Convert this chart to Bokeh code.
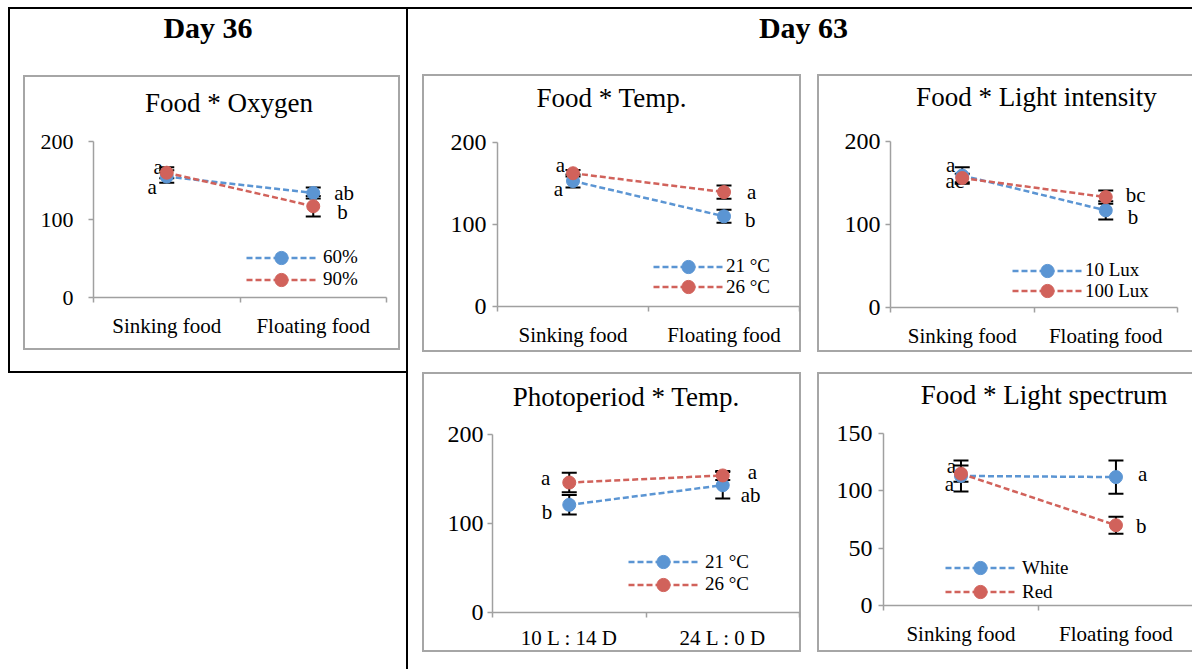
import numpy as np
from bokeh.plotting import figure
from bokeh.models import (Range1d, FixedTicker, CustomJSTickFormatter, LinearAxis,
                          ColumnDataSource, Whisker, TeeHead, Legend, LegendItem,
                          Div, Spacer)
from bokeh.layouts import row, column
from bokeh.embed import file_html
from bokeh.resources import INLINE
from bokeh.core.properties import value

# ---------------- data ----------------
food_cats = ["Sinking food", "Floating food"]
photo_cats = ["10 L : 14 D", "24 L : 0 D"]

# Day 36: Food * Oxygen
oxy_60 = [155, 134]
oxy_60_err = [8, 7]
oxy_60_sig = ["a", "ab"]
oxy_90 = [160, 117]
oxy_90_err = [7, 13]
oxy_90_sig = ["a", "b"]

# Day 63: Food * Temp.
ft_21 = [153, 110]
ft_21_err = [8, 8]
ft_21_sig = ["a", "b"]
ft_26 = [162.5, 139.5]
ft_26_err = [4, 8]
ft_26_sig = ["a", "a"]

# Day 63: Food * Light intensity
lux_10 = [159, 117]
lux_10_err = [10, 11]
lux_10_sig = ["a", "b"]
lux_100 = [156, 133]
lux_100_err = [5, 8]
lux_100_sig = ["ac", "bc"]

# Day 63: Photoperiod * Temp.
pt_21 = [121, 143]
pt_21_err = [11, 15]
pt_21_sig = ["b", "ab"]
pt_26 = [146, 154]
pt_26_err = [11, 5]
pt_26_sig = ["a", "a"]

# Day 63: Food * Light spectrum
sp_white = [113, 112]
sp_white_err = [13.5, 14.5]
sp_white_sig = ["a", "a"]
sp_red = [115, 70]
sp_red_err = [7, 7.5]
sp_red_sig = ["a", "b"]

# ---------------- styles ----------------
BLUE = "#5b95d3"
RED = "#d1625b"
SERIF = "Liberation Serif"
AXIS_GRAY = "#a0a0a0"
PANEL_GRAY = "#a6a6a6"
BLACK_BG = {"background-color": "black"}


def black_line(w, h):
    return Div(text="", width=w, height=h, margin=0, styles=BLACK_BG)


def make_panel(cats, series, width, height, title_h, borders, xend, ymax, yticks, title,
               title_shift, title_pad_top, y_standoff, y_font, legend_x, legend_ys,
               legend_standoff, full_border=True, x_standoff=11):
    bl, br, bt, bb = borders
    if full_border:
        shadow = "inset 0 0 0 2px %s" % PANEL_GRAY
    else:
        shadow = ("inset 2px 0 0 0 %s, inset 0 2px 0 0 %s, inset 0 -2px 0 0 %s"
                  % (PANEL_GRAY, PANEL_GRAY, PANEL_GRAY))
    p = figure(width=width, height=height - title_h, output_backend="svg", toolbar_location=None,
               x_range=Range1d(0, xend), y_range=Range1d(0, ymax),
               x_axis_type=None, y_axis_type=None,
               min_border_left=bl, min_border_right=br, min_border_top=bt, min_border_bottom=bb,
               border_fill_color=None, background_fill_color=None, outline_line_color=None)
    p.grid.visible = False

    xs = np.arange(len(cats)) + 0.5

    yax = LinearAxis(ticker=FixedTicker(ticks=yticks),
                     axis_line_color=AXIS_GRAY, axis_line_width=1.5,
                     major_tick_line_color=AXIS_GRAY, major_tick_line_width=1.5,
                     major_tick_in=0, major_tick_out=5, minor_tick_line_color=None,
                     major_label_text_font=SERIF, major_label_text_font_size=y_font,
                     major_label_text_color="black", major_label_standoff=y_standoff,
                     axis_label_standoff=0)
    p.add_layout(yax, "left")

    xax = LinearAxis(ticker=FixedTicker(ticks=list(xs), minor_ticks=list(range(len(cats) + 1))),
                     formatter=CustomJSTickFormatter(args=dict(labels=cats),
                                                     code="return labels[Math.floor(tick)];"),
                     axis_line_color=AXIS_GRAY, axis_line_width=1.5,
                     major_tick_line_color=None, major_tick_in=0, major_tick_out=0,
                     minor_tick_line_color=AXIS_GRAY, minor_tick_line_width=1.5,
                     minor_tick_in=0, minor_tick_out=5,
                     major_label_text_font=SERIF, major_label_text_font_size="21px",
                     major_label_text_color="black", major_label_standoff=x_standoff,
                     axis_label_standoff=0)
    p.add_layout(xax, "below")

    for vals, errs, sig, color, name, offs in series:
        vals = np.asarray(vals, dtype=float)
        errs = np.asarray(errs, dtype=float)
        src = ColumnDataSource(dict(x=xs, y=vals, upper=vals + errs, lower=vals - errs))
        w = Whisker(source=src, base="x", upper="upper", lower="lower",
                    line_color="black", line_width=2,
                    upper_head=TeeHead(size=15, line_color="black", line_width=2),
                    lower_head=TeeHead(size=15, line_color="black", line_width=2))
        p.add_layout(w)
        for i, (x, v, t, (dx, dy)) in enumerate(zip(xs, vals, sig, offs)):
            p.text(x=[x], y=[v], text=[t], x_offset=dx, y_offset=dy,
                   text_align="right" if i == 0 else "left", text_baseline="middle",
                   text_font=value(SERIF), text_font_size=value("21px"), text_color="black")

    for (vals, errs, sig, color, name, offs), ly in zip(series, legend_ys):
        lr = p.line(xs, vals, line_color=color, line_width=2.5, line_dash="6 3")
        sr = p.scatter(xs, vals, size=13, fill_color=color, line_color=color)
        leg = Legend(items=[LegendItem(label=name, renderers=[lr, sr])],
                     location=(legend_x, ly), orientation="vertical",
                     glyph_width=70, glyph_height=33, spacing=0,
                     label_standoff=legend_standoff, padding=0, margin=0,
                     border_line_color=None, background_fill_alpha=0,
                     label_text_font=SERIF, label_text_font_size="19px", label_height=20,
                     label_text_color="black")
        p.add_layout(leg, "center")

    pad_l = max(0, 2 * title_shift)
    pad_r = max(0, -2 * title_shift)
    html = ('<div style="width:%dpx;height:%dpx;box-sizing:border-box;padding-top:%.1fpx;'
            'padding-left:%.1fpx;padding-right:%.1fpx;text-align:center;white-space:nowrap;'
            'font-family:\'Liberation Serif\';font-size:27px;line-height:27px;color:black;">%s</div>'
            % (width, title_h, title_pad_top, pad_l, pad_r, title))
    tdiv = Div(text=html, width=width, height=title_h, margin=0)
    return column(tdiv, p, width=width, height=height, styles={"box-shadow": shadow})


p1 = make_panel(food_cats,
                [(oxy_60, oxy_60_err, oxy_60_sig, BLUE, "60%", [(-10, 10), (21, 0)]),
                 (oxy_90, oxy_90_err, oxy_90_sig, RED, "90%", [(-4, -6), (24, 6)])],
                377, 275, 50, (70, 14, 16, 53), 2, 200, [0, 100, 200], "Food * Oxygen",
                17.5, 15.4, 15, "22px", 153, (23.5, 1.5), 7)

p2 = make_panel(food_cats,
                [(ft_21, ft_21_err, ft_21_sig, BLUE, "21 °C", [(-10, 8), (21, 4)]),
                 (ft_26, ft_26_err, ft_26_sig, RED, "26 °C", [(-8, -8), (23, 0)])],
                379, 278, 52, (75, 2, 16, 46), 2, 200, [0, 100, 200], "Food * Temp.",
                0, 11, 6, "24px", 156, (23.5, 2.8), 3)

p3 = make_panel(food_cats,
                [(lux_10, lux_10_err, lux_10_sig, BLUE, "10 Lux", [(-7, -11), (22, 7)]),
                 (lux_100, lux_100_err, lux_100_sig, RED, "100 Lux", [(2, 3), (20, -2)])],
                375, 278, 52, (73, 15, 15, 45), 2, 200, [0, 100, 200], "Food * Light intensity",
                32, 10, 5, "24px", 122, (20.5, -0.2), 3, full_border=False)

p4 = make_panel(photo_cats,
                [(pt_21, pt_21_err, pt_21_sig, BLUE, "21 °C", [(-17, 7), (18, 10)]),
                 (pt_26, pt_26_err, pt_26_sig, RED, "26 °C", [(-19, -5), (25, -3)])],
                379, 280, 46, (70, 2, 16, 40), 2, 200, [0, 100, 200], "Photoperiod * Temp.",
                14.5, 12, 4, "24px", 136, (33.8, 11.2), 7, x_standoff=8)

p5 = make_panel(food_cats,
                [(sp_white, sp_white_err, sp_white_sig, BLUE, "White", [(-7, 8), (22, -3)]),
                 (sp_red, sp_red_err, sp_red_sig, RED, "Red", [(-5, -8), (20, 1)])],
                375, 280, 46, (66, 0, 15, 47), 1.994, 150, [0, 50, 100, 150],
                "Food * Light spectrum", 39.7, 9.7, 6, "24px", 62, (20.8, -3.2), 7,
                full_border=False)


# ---------------- page layout ----------------
def head(text, width, height, pad_left=0):
    html = ('<div style="width:%dpx;font-family:\'Liberation Serif\';font-weight:bold;'
            'font-size:30px;line-height:30px;padding-top:4px;padding-left:%dpx;'
            'box-sizing:border-box;text-align:center;color:black;">%s</div>'
            % (width, pad_left, text))
    return Div(text=html, width=width, height=height, margin=0)


left_content = column(
    head("Day 36", 396, 66),
    row(Spacer(width=13, height=275), p1, Spacer(width=6, height=275)),
    Spacer(width=396, height=21),
)
left_block = column(
    row(black_line(2, 362), left_content),
    black_line(398, 2),
)
divider = black_line(2, 660)
right_block = column(
    head("Day 63", 784, 65, pad_left=7),
    row(Spacer(width=14, height=278), p2, Spacer(width=16, height=278), p3),
    Spacer(width=784, height=20),
    row(Spacer(width=14, height=280), p4, Spacer(width=16, height=280), p5),
    Spacer(width=784, height=17),
)
content = column(black_line(1184, 2), row(left_block, divider, right_block))
root = column(Spacer(width=1192, height=7), row(Spacer(width=8, height=662), content))

open("out.html", "w").write(file_html(root, INLINE, "chart"))
